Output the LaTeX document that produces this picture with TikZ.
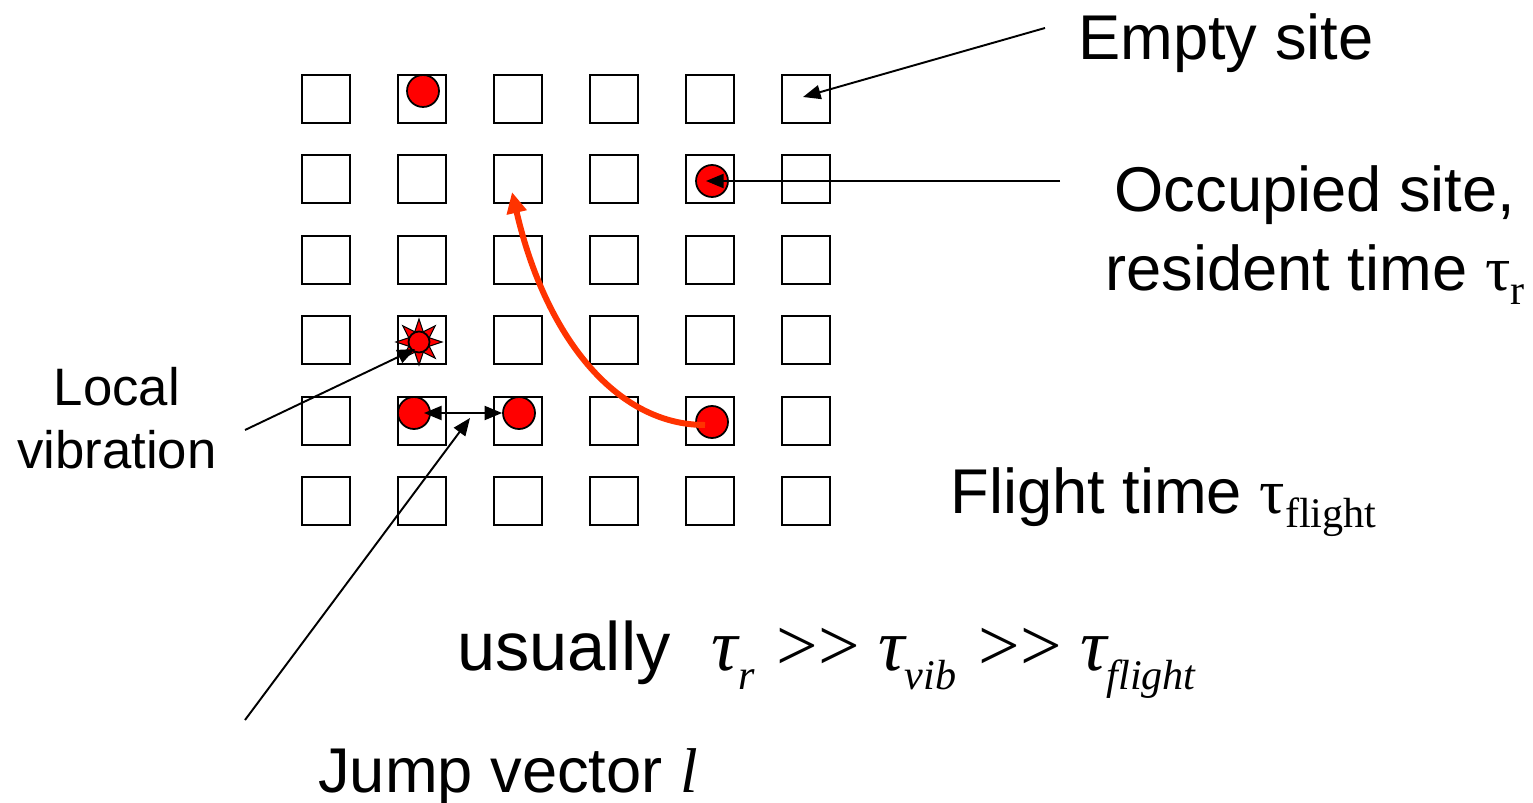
\documentclass[tikz,border=0pt]{standalone}
\usepackage{fontspec}
\setmainfont{Liberation Sans}
\newfontfamily\timesfont{Liberation Serif}
\usetikzlibrary{arrows.meta}
\definecolor{hopred}{RGB}{255, 51, 0}
\tikzset{%
    site/.style={draw, line width=1.1pt, minimum size=0.96cm, inner sep=0pt},
    atom/.style={circle, draw, fill=red, line width=1pt,
        minimum size=0.64cm, inner sep=0pt},
    pointer/.style={-{Triangle[length=10pt, width=8pt]}, line width=1.1pt},
    bigtext/.style={font=\fontsize{36}{45}\selectfont, inner sep=0pt}
}
\newcommand{\lowsub}[2][8pt]{\raisebox{-#1}{\fontsize{24}{24}\selectfont #2}}

\begin{document}
\begin{tikzpicture}[x=0.02cm, y=-0.02cm]
    \useasboundingbox (0, 0) rectangle (1533, 803);

    % Lattice sites
    \foreach \col in {1, ..., 6}{%
        \foreach \row in {1, ..., 6}{%
            \node[site] (s-\col-\row)
                at ({326 + 96*(\col-1)}, {99 + 80.4*(\row-1)}) {};
        };
    };

    % Particles
    \node[atom] (top) at (423, 91) {};
    \node[atom] (occ) at (712, 181) {};
    \node[atom] (jl) at (414, 413) {};
    \node[atom] (jr) at (519, 413) {};
    \node[atom] (hop) at (712, 422) {};

    % Vibrating particle
    \foreach \ang in {0, 45, ..., 315}{%
        \filldraw[fill=red, line width=0.6pt, shift={(419, 342)}]
            (\ang-28:10) -- (\ang:23) -- (\ang+28:10) -- cycle;
    };
    \node[atom, minimum size=0.42cm] (vib) at (419, 342) {};

    % Labels
    \node[bigtext, anchor=base west] (empty) at (1078, 60) {Empty site};
    \node[bigtext, align=center] (occlbl) at (1315, 235)
        {Occupied site,\\resident time {\timesfont τ\lowsub{r}}};
    \node[font=\fontsize{30}{36}\selectfont, align=center, inner sep=0pt]
        (vibl) at (117, 418) {Local\\vibration};
    \node[bigtext, anchor=base west] (flight) at (950, 513)
        {Flight time {\timesfont τ\lowsub{flight}}};
    \node[font=\fontsize{39}{45}\selectfont, anchor=base west, inner sep=0pt]
        (usual) at (457, 670)
        {usually\hspace{0.6em}{\timesfont\itshape\fontsize{42}{45}\selectfont
        τ\lowsub[11pt]{r}\hspace{0.3em}{\upshape >>}\hspace{0.25em}%
        τ\lowsub[11pt]{vib}\hspace{0.3em}{\upshape >>}\hspace{0.25em}%
        τ\lowsub[11pt]{flight}}};
    \node[bigtext, anchor=base west] (jump) at (318, 792)
        {Jump vector {\timesfont\itshape l}};

    % Connectors
    \coordinate (emptyend) at (1045, 28);
    \coordinate (occend) at (1060, 181);
    \coordinate (vibend) at (245, 430);
    \coordinate (jumpend) at (245, 720);
    \coordinate (jumptip) at (470, 418);
    \coordinate (hoptip) at (512, 192);
    \draw[pointer] (emptyend) -- ([shift={(-3, -2)}]s-6-1.center);
    \draw[pointer] (occend) -- ([shift={(-6, 0)}]occ.center);
    \draw[pointer] (vibend) -- ([shift={(-4, 7)}]vib.center);
    \draw[pointer] (jumpend) -- (jumptip);
    \draw[{Triangle[length=10pt, width=8pt]}-{Triangle[length=10pt, width=8pt]},
        line width=1.1pt, shorten <=0.2cm] (jl.center) -- (jr.west);

    % Hop
    \draw[hopred, line width=3.4pt, -{Triangle[length=12pt, width=11pt]}]
        ([shift={(-7, 3)}]hop.center) .. controls (615, 425) and (545, 335)
        .. (hoptip);

\end{tikzpicture}
\end{document}
